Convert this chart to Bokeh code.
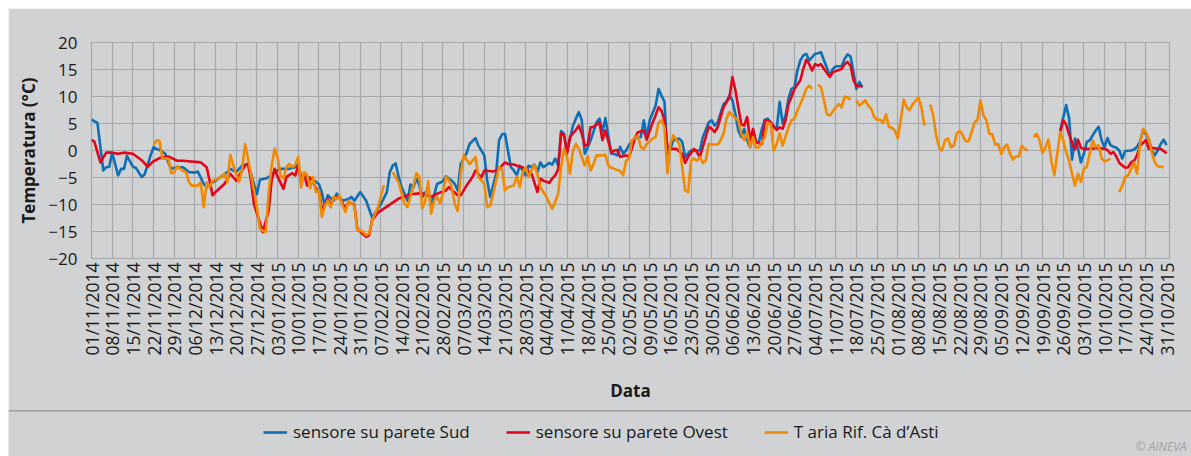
import math
from bokeh.plotting import figure
from bokeh.models import Range1d, FixedTicker, Legend, LegendItem, Spacer
from bokeh.layouts import column, row
from bokeh.core.properties import value
from bokeh.embed import file_html
from bokeh.resources import INLINE

# ---------------- data (day offset from 01/11/2014, temperature °C; None = no data) -------------
sud = [(0,5.7),(2,5.1),(4,-3.7),(5,-3.1),(6,-3.0),(7,-0.4),(9,-4.6),(10,-3.4),(11,-3.4),(12,-1.0),(14,-3.0),(15,-3.2),(17,-4.9),(18,-4.4),(20,-0.9),(21,0.6),(22,0.3),(23,0.1),(25,-0.6),(26,-2.2),(27,-3.4),(29,-3.1),(31,-3.1),(33,-4.0),(35,-4.1),(36,-3.9),(38,-6.2),(39,-6.8),(41,-5.9),(42,-5.6),(44,-4.8),(46,-4.0),(47,-3.4),(49,-4.0),(51,-2.8),(53,-2.5),(54,-4.3),(56,-8.1),(57,-5.4),(59,-5.2),(61,-4.6),(62,-4.0),(64,-3.4),(67,-3.4),(69,-3.1),(70,-2.6),(71,-4.8),(73,-4.9),(75,-5.4),(77,-6.2),(78,-7.8),(79,-10.3),(80,-8.3),(82,-9.3),(83,-8.0),(85,-9.3),(87,-9.0),(88,-8.6),(89,-9.3),(91,-7.7),(93,-9.3),(95,-12.4),(96,-11.6),(98,-9.9),(100,-7.7),(101,-4.0),(102,-2.8),(103,-2.4),(104,-4.9),(105,-6.8),(106,-8.0),(107,-9.3),(108,-6.3),(109,-6.8),(110,-5.2),(111,-6.5),(112,-8.6),(114,-7.1),(115,-10.2),(116,-8.3),(117,-6.2),(119,-5.7),(120,-4.8),(121,-5.2),(122,-5.6),(123,-6.2),(124,-7.4),(125,-2.5),(127,-0.5),(128,1.2),(130,2.3),(131,0.9),(133,-0.9),(134,-5.6),(135,-8.6),(137,-4.3),(138,1.9),(139,3.0),(140,3.1),(141,0.0),(142,-3.1),(143,-3.7),(144,-4.6),(145,-2.8),(146,-3.7),(147,-4.6),(148,-2.8),(149,-3.1),(150,-2.6),(151,-4.0),(152,-2.2),(153,-3.1),(155,-2.3),(156,-2.6),(157,-1.5),(158,-2.8),(159,3.6),(160,3.1),(161,-0.3),(163,4.6),(164,5.9),(165,7.1),(166,5.6),(167,-0.6),(168,0.6),(169,1.9),(171,5.2),(172,5.9),(173,3.4),(174,6.0),(176,-0.6),(177,-0.6),(178,-0.9),(179,0.7),(180,-0.6),(181,0.0),(182,1.0),(184,2.3),(186,2.5),(187,5.6),(188,2.5),(189,5.6),(191,8.3),(192,11.4),(193,10.2),(194,9.0),(195,-0.6),(196,0.3),(197,1.9),(199,2.2),(200,1.6),(201,-1.2),(202,-0.6),(203,0.0),(206,0.0),(207,2.5),(209,5.2),(210,5.6),(211,4.6),(212,5.2),(214,8.6),(215,9.0),(216,10.2),(217,9.3),(218,6.8),(219,3.7),(220,2.5),(221,4.0),(222,1.9),(223,0.6),(224,3.7),(225,1.6),(226,1.6),(227,4.0),(228,5.7),(229,5.9),(231,4.3),(232,4.0),(233,9.0),(234,5.0),(235,6.5),(236,9.6),(237,11.4),(238,11.7),(239,14.8),(240,16.7),(241,17.6),(242,17.9),(243,16.7),(245,17.9),(246,18.0),(247,18.2),(248,16.7),(250,13.9),(251,15.1),(252,15.6),(254,15.6),(255,17.0),(256,17.8),(257,17.4),(258,14.5),(259,11.4),(260,12.7),(261,11.7),(294,None),(328,3.7),(330,8.4),(331,6.0),(332,-1.7),(333,2.2),(334,0.4),(335,-2.2),(336,-0.6),(337,1.6),(338,1.9),(339,2.8),(340,3.7),(341,4.4),(342,1.9),(343,0.6),(344,2.3),(345,1.0),(346,0.7),(347,0.5),(348,0.0),(349,-1.5),(350,-0.1),(352,0.0),(353,0.2),(354,0.7),(355,1.6),(356,3.6),(357,3.1),(358,2.0),(359,0.0),(360,-0.9),(361,0.0),(362,1.2),(363,2.0),(364,1.0)]

ovest = [(0,2.0),(1,1.6),(3,-2.2),(5,-0.4),(7,-0.4),(9,-0.6),(11,-0.4),(14,-0.6),(17,-1.8),(19,-3.0),(21,-2.0),(23,-1.4),(26,-1.1),(29,-1.9),(31,-1.9),(37,-2.2),(39,-3.1),(40,-5.6),(41,-8.3),(42,-7.7),(45,-6.2),(47,-4.3),(49,-5.6),(50,-4.6),(52,-2.8),(53,-2.4),(54,-5.6),(55,-9.9),(57,-13.3),(58,-15.1),(60,-11.1),(61,-5.5),(62,-3.4),(63,-4.8),(65,-7.1),(66,-4.9),(68,-4.2),(69,-4.6),(70,-2.8),(71,-5.9),(72,-4.4),(73,-6.5),(74,-5.0),(75,-5.8),(76,-7.0),(77,-7.6),(78,-11.0),(79,-10.0),(80,-9.0),(81,-10.0),(82,-8.8),(84,-8.5),(85,-9.8),(86,-10.8),(87,-9.5),(88,-9.8),(89,-10.0),(90,-14.5),(91,-15.0),(92,-15.5),(93,-16.0),(94,-15.7),(95,-12.9),(96,-12.2),(97,-11.5),(104,-8.9),(108,-8.1),(112,-7.9),(115,-8.6),(117,-8.0),(120,-7.4),(121,-6.8),(124,-8.3),(125,-8.3),(127,-6.5),(129,-4.9),(130,-3.7),(132,-5.0),(133,-3.7),(136,-3.9),(138,-3.4),(140,-2.2),(141,-2.5),(143,-2.6),(145,-3.0),(146,-3.1),(149,-4.3),(151,-7.7),(152,-5.2),(153,-5.6),(155,-6.0),(156,-5.2),(157,-4.6),(158,-3.5),(159,3.2),(160,2.8),(161,-0.6),(162,2.5),(164,3.8),(165,4.6),(166,3.1),(167,0.9),(168,1.1),(169,4.3),(170,4.4),(172,5.2),(173,1.9),(174,3.7),(176,-0.3),(177,0.0),(178,0.1),(179,-1.2),(181,-0.9),(182,-1.2),(183,0.5),(184,2.3),(185,3.4),(187,3.7),(188,2.0),(190,5.2),(191,6.5),(192,8.0),(193,7.4),(194,5.6),(195,0.6),(196,0.3),(198,0.3),(200,-0.6),(201,-2.3),(202,-1.2),(204,0.3),(205,-0.3),(206,-1.2),(208,2.5),(209,4.4),(210,4.0),(211,3.4),(212,4.3),(214,8.0),(215,9.0),(216,9.8),(217,13.6),(218,11.2),(219,8.0),(220,4.9),(221,4.6),(222,6.2),(223,1.9),(224,4.0),(225,1.5),(227,1.2),(228,5.6),(229,5.6),(230,5.2),(232,3.8),(233,4.3),(234,4.0),(235,5.6),(236,8.6),(237,9.9),(238,11.4),(240,13.0),(241,15.1),(242,16.8),(243,16.0),(244,14.8),(245,16.0),(246,15.7),(247,16.0),(248,15.1),(250,13.6),(251,14.5),(252,14.7),(254,15.1),(255,16.0),(256,16.4),(257,15.7),(258,13.0),(259,12.0),(261,11.9),(294,None),(328,3.4),(329,5.6),(330,4.8),(331,3.0),(332,1.5),(333,0.2),(334,2.0),(335,0.5),(336,0.3),(338,0.3),(341,0.5),(343,0.3),(344,0.1),(345,-0.6),(346,-0.3),(347,-1.1),(348,-2.3),(350,-3.2),(351,-3.1),(352,-2.2),(353,-1.9),(354,-0.9),(355,0.9),(356,1.4),(357,1.9),(358,0.3),(359,0.5),(361,0.3),(362,0.3),(364,-0.5)]

aria = [(21,1.0),(22,1.9),(23,1.8),(24,-1.5),(26,-1.5),(27,-4.2),(28,-4.0),(29,-2.9),(31,-3.8),(32,-4.0),(33,-5.9),(34,-6.5),(36,-6.5),(37,-5.9),(38,-10.5),(39,-5.9),(40,-6.8),(41,-5.6),(43,-5.2),(45,-4.3),(46,-5.9),(47,-0.8),(49,-4.5),(50,-5.8),(51,-3.5),(52,1.2),(53,-1.5),(55,-7.4),(56,-10.5),(57,-14.5),(59,-15.1),(60,-7.7),(61,-2.8),(62,0.3),(63,-1.2),(64,-4.6),(65,-5.2),(66,-3.1),(67,-2.5),(68,-3.1),(69,-2.6),(70,-1.2),(71,-6.8),(72,-4.0),(73,-4.5),(74,-7.0),(75,-4.9),(76,-7.7),(77,-7.4),(78,-12.3),(79,-10.2),(80,-9.3),(81,-10.5),(82,-8.6),(83,-9.0),(84,-8.3),(85,-10.2),(86,-11.4),(87,-9.3),(88,-9.9),(89,-10.2),(90,-14.8),(91,-14.8),(92,-15.1),(93,-15.7),(94,-15.4),(95,-13.0),(96,-11.7),(97,-10.5),(99,-6.4),(100,None),(102,-4.0),(104,-5.9),(106,-9.9),(107,-10.5),(109,-6.5),(110,-4.2),(111,-4.9),(112,-10.8),(113,-9.3),(114,-5.7),(115,-11.7),(116,-9.3),(117,-8.6),(118,-9.8),(119,-8.0),(120,-4.9),(121,-5.5),(122,-6.8),(123,-9.9),(124,-11.2),(125,-4.3),(126,-0.9),(128,-2.5),(129,-1.9),(130,-1.2),(131,-4.9),(133,-6.2),(134,-10.5),(135,-10.2),(136,-8.0),(138,-3.1),(139,-3.4),(140,-7.4),(141,-6.8),(143,-6.5),(144,-4.8),(145,-6.8),(146,-4.0),(147,-3.1),(148,-4.9),(149,-3.6),(150,-2.6),(151,-4.5),(152,-6.8),(154,-8.6),(156,-10.8),(157,-9.5),(158,-8.0),(159,-3.1),(160,0.3),(161,-1.2),(162,-4.3),(163,0.0),(164,1.2),(165,0.3),(166,-1.2),(167,-2.8),(168,-1.1),(169,-3.7),(170,-2.5),(171,-0.9),(173,-0.9),(174,-0.8),(175,-2.8),(176,-3.2),(177,-3.4),(179,-3.8),(180,-4.6),(181,-1.9),(182,-1.5),(183,1.9),(185,2.8),(186,0.6),(187,0.3),(188,1.2),(190,2.2),(191,2.5),(192,5.2),(193,5.6),(194,4.3),(195,-4.2),(196,1.2),(197,2.8),(199,1.2),(200,-3.1),(201,-7.4),(202,-7.7),(203,-1.9),(204,-1.5),(205,-1.9),(206,-1.2),(207,-2.3),(208,-1.9),(209,1.2),(210,1.1),(212,1.1),(213,1.9),(214,3.1),(215,5.9),(216,7.1),(217,6.5),(219,5.6),(220,3.1),(221,1.9),(222,3.4),(223,0.6),(224,2.5),(225,0.5),(226,0.6),(228,2.5),(229,5.2),(230,4.9),(231,0.0),(232,1.2),(233,3.2),(234,0.9),(236,4.3),(237,5.6),(238,5.9),(239,7.4),(240,8.6),(241,9.9),(242,11.4),(243,12.0),(244,11.4),(245,None),(246,12.2),(247,11.7),(248,9.3),(249,6.7),(250,6.5),(252,8.0),(253,8.6),(254,8.0),(255,10.0),(256,9.8),(257,9.4),(258,None),(259,9.3),(260,8.3),(262,9.3),(263,8.3),(264,7.7),(265,6.2),(266,5.7),(267,5.7),(268,5.1),(269,6.7),(270,4.4),(271,4.2),(272,3.7),(273,2.3),(274,5.6),(275,9.4),(276,8.0),(277,7.5),(278,8.5),(279,9.2),(280,9.8),(281,8.0),(282,4.6),(283,None),(284,8.5),(285,6.5),(286,2.8),(287,0.6),(288,0.0),(289,1.9),(290,2.2),(291,0.6),(292,0.9),(293,3.2),(294,3.6),(295,2.8),(296,1.7),(297,1.7),(298,3.4),(299,5.2),(300,5.7),(301,9.3),(302,6.5),(303,5.6),(304,3.1),(305,3.0),(306,1.1),(307,1.2),(308,-0.6),(309,0.6),(310,1.1),(311,-0.6),(312,-1.7),(313,-1.1),(314,-1.1),(315,0.9),(316,0.3),(317,0.0),(318,None),(319,2.5),(320,3.1),(321,1.9),(322,-0.5),(323,0.6),(324,2.0),(325,-1.9),(326,-4.6),(327,-0.6),(328,3.4),(329,1.9),(330,-0.3),(331,-1.9),(332,-4.3),(333,-6.5),(334,-4.3),(335,-5.8),(336,-3.4),(337,-3.0),(338,-0.5),(339,1.9),(340,0.6),(341,1.0),(342,-1.5),(343,-2.0),(344,-1.8),(345,-1.5),(346,None),(348,-7.7),(349,-6.5),(350,-4.9),(351,-4.6),(352,-3.4),(353,-2.2),(354,-4.3),(355,1.2),(356,4.0),(357,3.4),(358,2.2),(359,-0.3),(360,-2.2),(361,-2.9),(362,-3.0),(363,-3.1)]

tick_days = list(range(0, 365, 7))
tick_labels = ["01/11/2014","08/11/2014","15/11/2014","22/11/2014","29/11/2014","06/12/2014","13/12/2014",
               "20/12/2014","27/12/2014","03/01/2015","10/01/2015","17/01/2015","24/01/2015","31/01/2015",
               "07/02/2015","14/02/2015","21/02/2015","28/02/2015","07/03/2015","14/03/2015","21/03/2015",
               "28/03/2015","04/04/2015","11/04/2015","18/04/2015","25/04/2015","02/05/2015","09/05/2015",
               "16/05/2015","23/05/2015","30/05/2015","06/06/2015","13/06/2015","20/06/2015","27/06/2015",
               "04/07/2015","11/07/2015","18/07/2015","25/07/2015","01/08/2015","08/08/2015","15/08/2015",
               "22/08/2015","29/08/2015","05/09/2015","12/09/2015","19/09/2015","26/09/2015","03/10/2015",
               "10/10/2015","17/10/2015","24/10/2015","31/10/2015"]
grid_days = list(range(0, 358, 7))
y_ticks = [-20, -15, -10, -5, 0, 5, 10, 15, 20]

series_names = ["sensore su parete Sud", "sensore su parete Ovest", "T aria Rif. Cà d\u2019Asti"]
series_colors = ["#0d6fb6", "#e2061c", "#f18a00"]

BG = "#d1d2d4"
GRID = "#a7a8aa"
FONT = "Open Sans"

def split(pairs):
    xs = [d for d, _ in pairs]
    ys = [float("nan") if v is None else v for _, v in pairs]
    return xs, ys

# ---------------- chart: frame 1078 x 216 px ----------------
p = figure(width=1183, height=401, x_range=Range1d(0, 365), y_range=Range1d(-20, 20),
           output_backend="svg", toolbar_location=None,
           min_border_left=83, min_border_right=22, min_border_top=34, min_border_bottom=151)
p.frame_align = False
p.background_fill_color = BG
p.border_fill_color = BG
p.outline_line_color = GRID
p.outline_line_width = 1.2

renderers = []
for pairs, col in zip([sud, ovest, aria], series_colors):
    xs, ys = split(pairs)
    renderers.append(p.line(xs, ys, line_color=col, line_width=2.6, line_join="round"))

p.xaxis.ticker = FixedTicker(ticks=tick_days)
p.xaxis.major_label_overrides = {d: lab for d, lab in zip(tick_days, tick_labels)}
p.xaxis.major_label_orientation = math.pi / 2
p.yaxis.ticker = FixedTicker(ticks=y_ticks)
p.xgrid.ticker = FixedTicker(ticks=grid_days)
p.ygrid.ticker = FixedTicker(ticks=y_ticks)
p.grid.grid_line_color = GRID
p.grid.grid_line_width = 1.2

for ax in (p.xaxis, p.yaxis):
    ax.axis_line_color = None
    ax.major_tick_line_color = None
    ax.minor_tick_line_color = None
    ax.major_tick_out = 0
    ax.major_tick_in = 0
    ax.major_label_text_font = FONT
    ax.major_label_text_color = "#1a1a1a"
    ax.axis_label_text_font = FONT
    ax.axis_label_text_font_size = "17px"
    ax.axis_label_text_font_style = "bold"
    ax.axis_label_text_color = "#1a1a1a"

p.xaxis.major_label_text_font_size = "17.5px"
p.yaxis.major_label_text_font_size = "17px"
p.xaxis.major_label_standoff = 4
p.xaxis.axis_label = "Data"
p.xaxis.axis_label_standoff = 21
p.yaxis.major_label_standoff = 14
p.yaxis.axis_label = "Temperatura (°C)"
p.yaxis.axis_label_standoff = 5

# ---------------- legend strip (pixel coordinates) ----------------
q = figure(width=1183, height=47, x_range=Range1d(0, 1183), y_range=Range1d(0, 47),
           output_backend="svg", toolbar_location=None,
           x_axis_location=None, y_axis_location=None,
           min_border_left=0, min_border_right=0, min_border_top=0, min_border_bottom=0)
q.frame_align = False
q.background_fill_color = BG
q.border_fill_color = BG
q.outline_line_color = None
q.grid.visible = False
q.line([0, 1183], [46, 46], line_color="#a3a4a6", line_width=2.5)
q.text(x=[1127], y=[10], text=["© AINEVA"], text_font=value(FONT), text_font_style="italic",
       text_font_size="12px", text_color="#a2a3a5", text_baseline="middle", text_align="left")

items = []
for name, col in zip(series_names, series_colors):
    r = q.line([-50, -40], [-50, -50], line_color=col, line_width=2.6)
    items.append(LegendItem(label=name, renderers=[r]))
legend = Legend(items=items, orientation="horizontal", location=(255, 13),
                background_fill_alpha=0, border_line_color=None,
                label_text_font=FONT, label_text_font_size="17px", label_text_color="#1a1a1a",
                glyph_width=24, glyph_height=20, label_height=20,
                label_standoff=6, spacing=36, padding=0, margin=0)
q.add_layout(legend)

layout = column(Spacer(height=8), row(Spacer(width=8), column(p, q, spacing=0), spacing=0), spacing=0)
open("out.html", "w").write(file_html(layout, INLINE))
